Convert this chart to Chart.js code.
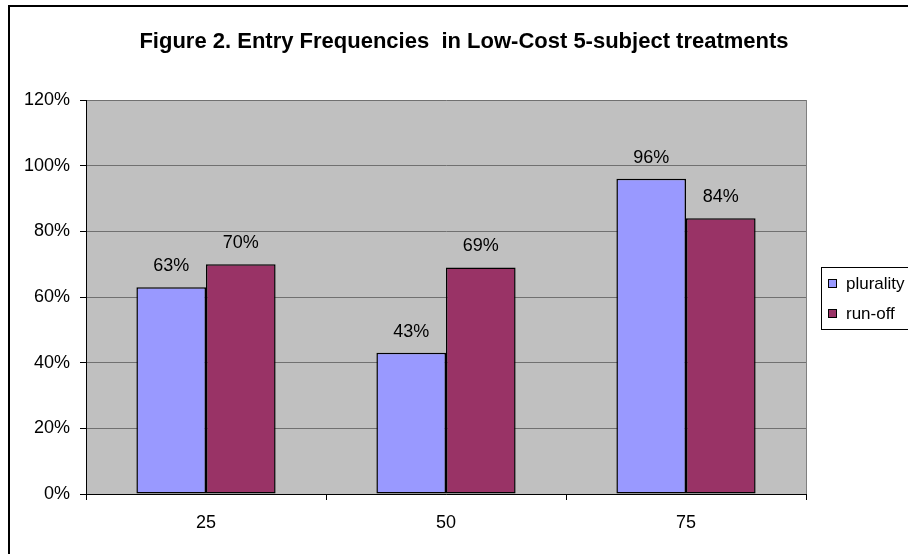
<!DOCTYPE html>
<html>
<head>
    <title>Figure 2. Entry Frequencies</title>
    <script src="https://cdn.jsdelivr.net/npm/chart.js"></script>
    <style>
        body { margin: 0; background: #ffffff; }
        #wrap { width: 908px; height: 554px; position: relative; }
    </style>
</head>
<body>
    <div id="wrap">
        <canvas id="entryChart" width="908" height="554"></canvas>
    </div>

    <script>
        // data
        const categories = ['25', '50', '75'];
        const plurality = [63, 43, 96];
        const runoff = [70, 69, 84];
        const yTicks = [0, 20, 40, 60, 80, 100, 120];

        const font = 'Liberation Sans, Arial, sans-serif';

        // gray plot area, outer frame and title
        const framePlugin = {
            id: 'frame',
            beforeDraw(chart) {
                const ctx = chart.ctx;
                const a = chart.chartArea;
                ctx.save();
                ctx.fillStyle = '#ffffff';
                ctx.fillRect(0, 0, chart.width, chart.height);
                ctx.fillStyle = '#c0c0c0';
                ctx.fillRect(a.left, a.top, a.right - a.left, a.bottom - a.top);
                ctx.strokeStyle = '#808080';
                ctx.lineWidth = 1;
                ctx.beginPath();
                ctx.moveTo(a.right + 0.5, a.top);
                ctx.lineTo(a.right + 0.5, a.bottom);
                ctx.stroke();
                ctx.strokeStyle = '#000000';
                ctx.lineWidth = 2;
                ctx.strokeRect(9, 6, 920, 560);
                ctx.fillStyle = '#000000';
                ctx.font = 'bold 22px ' + font;
                ctx.textAlign = 'center';
                ctx.textBaseline = 'alphabetic';
                ctx.fillText('Figure 2. Entry Frequencies  in Low-Cost 5-subject treatments', 464, 48);
                ctx.restore();
            }
        };

        // value labels over the bars and the legend box
        const labelPlugin = {
            id: 'labels',
            afterDatasetsDraw(chart) {
                const ctx = chart.ctx;
                ctx.save();
                ctx.font = '18px ' + font;
                ctx.fillStyle = '#000000';
                ctx.textAlign = 'center';
                ctx.textBaseline = 'middle';
                chart.data.datasets.forEach((ds, i) => {
                    chart.getDatasetMeta(i).data.forEach((bar, j) => {
                        ctx.fillText(ds.data[j] + '%', bar.x, bar.y - 21);
                    });
                });

                // legend
                ctx.font = '17px ' + font;
                ctx.fillStyle = '#ffffff';
                ctx.fillRect(821, 267, 100, 62);
                ctx.strokeStyle = '#000000';
                ctx.lineWidth = 1;
                ctx.strokeRect(821.5, 267.5, 100, 62);
                chart.data.datasets.forEach((ds, i) => {
                    const y = 279 + i * 30;
                    ctx.fillStyle = ds.backgroundColor;
                    ctx.fillRect(828, y, 9, 9);
                    ctx.strokeRect(828.5, y + 0.5, 8, 8);
                    ctx.fillStyle = '#000000';
                    ctx.textAlign = 'left';
                    ctx.fillText(ds.label, 846, y + 5);
                });
                ctx.restore();
            }
        };

        new Chart(document.getElementById('entryChart'), {
            type: 'bar',
            data: {
                labels: categories,
                datasets: [{
                    label: 'plurality',
                    data: plurality,
                    backgroundColor: '#9999ff',
                    borderColor: '#000000',
                    borderWidth: 1.5,
                    borderSkipped: false
                }, {
                    label: 'run-off',
                    data: runoff,
                    backgroundColor: '#993366',
                    borderColor: '#000000',
                    borderWidth: 1.5,
                    borderSkipped: false
                }]
            },
            options: {
                responsive: false,
                animation: false,
                layout: { padding: { left: 0, top: 100, right: 102, bottom: 0 } },
                categoryPercentage: 0.58,
                barPercentage: 1.0,
                plugins: {
                    legend: { display: false },
                    tooltip: { enabled: false }
                },
                scales: {
                    x: {
                        afterFit: (s) => { s.height = 60; },
                        grid: {
                            offset: true,
                            drawOnChartArea: false,
                            color: '#000000',
                            tickLength: 6
                        },
                        border: { color: '#000000', width: 1 },
                        ticks: {
                            color: '#000000',
                            padding: 12,
                            font: { family: font, size: 18 }
                        }
                    },
                    y: {
                        min: 0,
                        max: 120,
                        afterFit: (s) => { s.width = 86; },
                        afterBuildTicks: (s) => { s.ticks = yTicks.map(v => ({ value: v })); },
                        grid: {
                            color: '#707070',
                            tickColor: '#000000',
                            tickLength: 6
                        },
                        border: { color: '#000000', width: 1 },
                        ticks: {
                            color: '#000000',
                            padding: 10,
                            font: { family: font, size: 18 },
                            callback: (v) => v + '%'
                        }
                    }
                }
            },
            plugins: [framePlugin, labelPlugin]
        });
    </script>
</body>
</html>
